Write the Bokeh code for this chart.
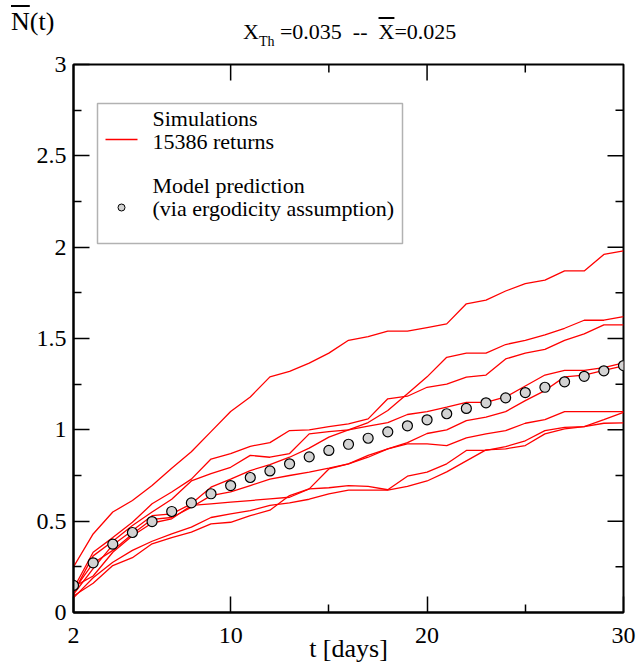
from bokeh.plotting import figure
from bokeh.layouts import column
from bokeh.models import Range1d, FixedTicker, Label, BoxAnnotation, Div
from bokeh.embed import file_html
from bokeh.resources import INLINE

# time axis (days) shared by every series
days = list(range(2, 31))

# mean number of returns predicted by the model
model_prediction = [0.148, 0.272, 0.374, 0.438, 0.498, 0.553, 0.600, 0.650, 0.695,
                    0.739, 0.775, 0.814, 0.852, 0.887, 0.921, 0.954, 0.989, 1.022,
                    1.055, 1.088, 1.117, 1.148, 1.175, 1.204, 1.233, 1.263, 1.293,
                    1.323, 1.352]

# simulated runs
run_a = [0.25, 0.43, 0.55, 0.613, 0.695, 0.79, 0.88, 0.99, 1.10, 1.18, 1.29, 1.32,
         1.365, 1.42, 1.49, 1.51, 1.54, 1.54, 1.56, 1.58, 1.69, 1.71, 1.76, 1.80,
         1.82, 1.87, 1.87, 1.96, 1.98]
run_b = [0.11, 0.31, 0.39, 0.476, 0.55, 0.62, 0.72, 0.76, 0.795, 0.86, 0.85, 0.87,
         0.978, 0.99, 1.0, 1.04, 1.106, 1.197, 1.29, 1.397, 1.42, 1.42, 1.467, 1.49,
         1.52, 1.556, 1.60, 1.60, 1.62]
run_c = [0.13, 0.33, 0.41, 0.494, 0.595, 0.66, 0.73, 0.84, 0.87, 0.91, 0.93, 0.996,
         1.0, 1.018, 1.033, 1.06, 1.17, 1.184, 1.233, 1.25, 1.288, 1.30, 1.388, 1.42,
         1.44, 1.49, 1.525, 1.575, 1.575]
run_d = [0.10, 0.24, 0.37, 0.449, 0.53, 0.54, 0.595, 0.686, 0.73, 0.777, 0.81, 0.85,
         0.90, 0.96, 1.0, 1.02, 1.04, 1.084, 1.10, 1.124, 1.15, 1.15, 1.18, 1.24,
         1.30, 1.325, 1.325, 1.34, 1.367]
run_e = [0.12, 0.27, 0.34, 0.43, 0.51, 0.52, 0.576, 0.64, 0.66, 0.695, 0.73, 0.75,
         0.768, 0.79, 0.814, 0.85, 0.896, 0.93, 0.98, 1.0, 1.05, 1.07, 1.10, 1.16,
         1.215, 1.29, 1.30, 1.325, 1.35]
run_f = [0.09, 0.16, 0.257, 0.30, 0.376, 0.41, 0.44, 0.485, 0.494, 0.53, 0.56, 0.64,
         0.677, 0.786, 0.814, 0.86, 0.896, 0.923, 0.923, 0.914, 0.956, 0.978, 0.996,
         1.036, 1.056, 1.10, 1.10, 1.10, 1.10]
run_g = [0.14, 0.20, 0.33, 0.42, 0.49, 0.513, 0.586, 0.595, 0.604, 0.613, 0.622,
         0.631, 0.677, 0.683, 0.695, 0.69, 0.672, 0.746, 0.768, 0.814, 0.887, 0.887,
         0.908, 0.94, 0.996, 1.014, 1.018, 1.056, 1.096]
run_h = [0.08, 0.19, 0.275, 0.34, 0.39, 0.43, 0.467, 0.52, 0.54, 0.558, 0.586, 0.60,
         0.62, 0.65, 0.67, 0.67, 0.67, 0.69, 0.72, 0.77, 0.83, 0.89, 0.896, 0.914,
         0.978, 1.005, 1.018, 1.036, 1.038]
runs = [run_a, run_b, run_c, run_d, run_e, run_f, run_g, run_h]

x_ticks = [2, 10, 20, 30]
x_minor = [15, 25]
y_ticks = [0, 0.5, 1, 1.5, 2, 2.5, 3]
y_minor = [0.25, 0.75, 1.25, 1.75, 2.25, 2.75]

SERIF = "Liberation Serif"
W = 636
HEAD_H = 52                      # strip holding the heading and the y title
MAIN_H = 667 - HEAD_H
L, R, T, B = 73, 623, 12, 560    # frame edges inside the main canvas
X0, X1, Y0, Y1 = 2, 30, 0, 3
MAJOR_LEN, MINOR_LEN = 16, 8     # inward tick lengths, px


def sx(px):
    """main-canvas pixel column -> data x"""
    return X0 + (px - L) * (X1 - X0) / (R - L)


def sy(py):
    """main-canvas pixel row -> data y"""
    return Y0 + (B - py) * (Y1 - Y0) / (B - T)


# ---------- heading strip ----------
OVER = "text-decoration:overline;text-decoration-thickness:1.5px;"
head_html = (
    f'<div style="position:relative;width:{W}px;height:{HEAD_H}px;'
    f"font-family:'{SERIF}';color:black;line-height:1;white-space:nowrap;\">"
    f'<span style="position:absolute;left:11px;top:9px;font-size:26px;">'
    f'<span style="{OVER}">N</span>(t)</span>'
    f'<span style="position:absolute;left:243px;top:21px;font-size:22px;">'
    f'X<span style="font-size:14px;position:relative;top:7px;">Th</span>'
    f'&nbsp;=0.035&nbsp;&nbsp;--&nbsp;&nbsp;<span style="{OVER}">X</span>=0.025</span>'
    f'</div>'
)
head = Div(text=head_html, width=W, height=HEAD_H, margin=0)

# ---------- main plot ----------
p = figure(width=W, height=MAIN_H, x_range=Range1d(X0, X1), y_range=Range1d(Y0, Y1),
           output_backend="svg", toolbar_location=None, title=None,
           min_border_left=L, min_border_right=W - R,
           min_border_top=T, min_border_bottom=MAIN_H - B)
p.grid.visible = False
p.outline_line_color = "black"
p.outline_line_width = 2
p.background_fill_color = "white"
p.border_fill_color = "white"

p.xaxis.ticker = FixedTicker(ticks=x_ticks, minor_ticks=x_minor)
p.yaxis.ticker = FixedTicker(ticks=y_ticks, minor_ticks=y_minor)
for ax, standoff in [(p.xaxis[0], 15), (p.yaxis[0], 7)]:
    ax.axis_line_width = 2
    ax.axis_line_color = "black"
    ax.major_tick_in = MAJOR_LEN
    ax.major_tick_out = 0
    ax.minor_tick_in = MINOR_LEN
    ax.minor_tick_out = 0
    ax.major_tick_line_width = 1.5
    ax.minor_tick_line_width = 1.5
    ax.major_label_standoff = standoff
    ax.major_label_text_font = SERIF
    ax.major_label_text_color = "black"
    ax.major_label_text_font_size = "24px"

p.xaxis.axis_label = "t [days]"
p.xaxis.axis_label_text_font = SERIF
p.xaxis.axis_label_text_font_style = "normal"
p.xaxis.axis_label_text_font_size = "26px"
p.xaxis.axis_label_text_color = "black"
p.xaxis.axis_label_standoff = -12

# mirrored inward ticks on the top and right edges
dx_major = MAJOR_LEN * (X1 - X0) / (R - L)
dx_minor = MINOR_LEN * (X1 - X0) / (R - L)
dy_major = MAJOR_LEN * (Y1 - Y0) / (B - T)
dy_minor = MINOR_LEN * (Y1 - Y0) / (B - T)
top_major = [t for t in x_ticks if X0 < t < X1]
right_major = [t for t in y_ticks if Y0 < t < Y1]
p.segment(top_major, [Y1] * len(top_major), top_major, [Y1 - dy_major] * len(top_major),
          line_color="black", line_width=1.5)
p.segment(x_minor, [Y1] * len(x_minor), x_minor, [Y1 - dy_minor] * len(x_minor),
          line_color="black", line_width=1.5)
p.segment([X1] * len(right_major), right_major, [X1 - dx_major] * len(right_major),
          right_major, line_color="black", line_width=1.5)
p.segment([X1] * len(y_minor), y_minor, [X1 - dx_minor] * len(y_minor), y_minor,
          line_color="black", line_width=1.5)

# simulation curves
for run in runs:
    p.line(days, run, line_color="red", line_width=1.3)

# model prediction markers
p.scatter(days, model_prediction, size=10, fill_color="#d3d3d3",
          line_color="black", line_width=1.2)

# legend
p.add_layout(BoxAnnotation(left=sx(97), right=sx(402), top=sy(51), bottom=sy(191),
                           fill_color="white", fill_alpha=1.0, level="underlay",
                           line_color="black", line_width=1.5))
p.line([sx(105), sx(137)], [sy(87), sy(87)], line_color="red", line_width=1.3)
p.scatter([sx(121)], [sy(155)], size=7, fill_color="#d3d3d3",
          line_color="black", line_width=1.0)

for txt, py in [("Simulations", 66), ("15386 returns", 89),
                ("Model prediction", 133), ("(via ergodicity assumption)", 156)]:
    p.add_layout(Label(x=sx(152), y=sy(py), text=txt, text_font=SERIF,
                       text_font_size="22px", text_baseline="middle", text_align="left",
                       text_color="black"))

layout = column(head, p, spacing=0)
open("out.html", "w").write(file_html(layout, INLINE))
